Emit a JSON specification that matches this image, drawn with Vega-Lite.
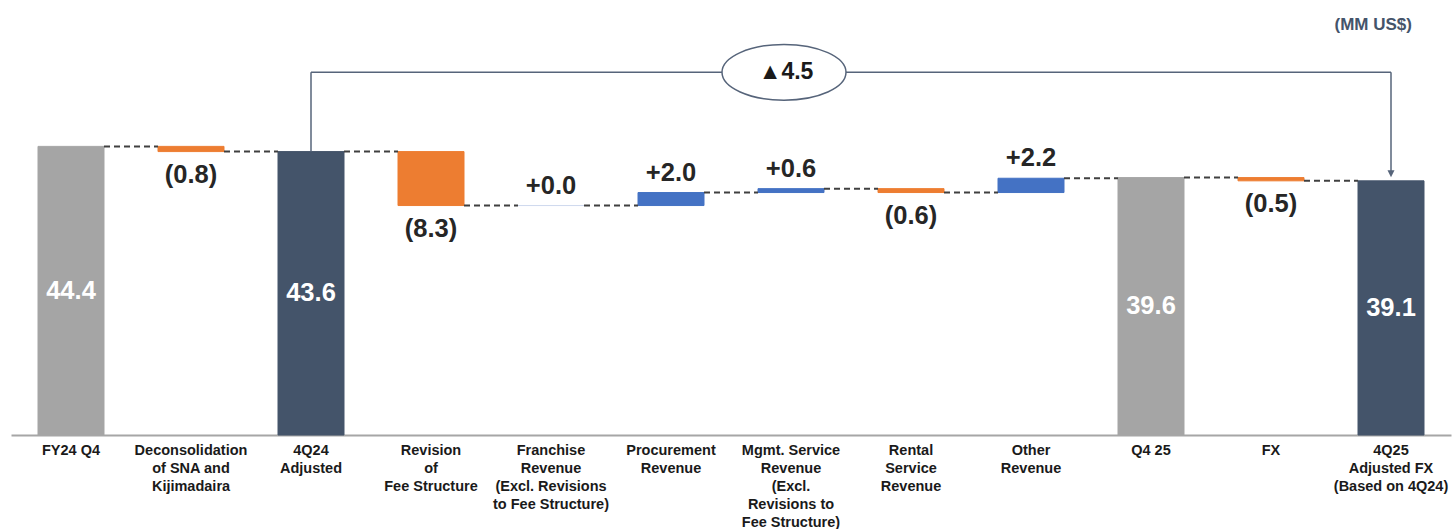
{
  "$schema": "https://vega.github.io/schema/vega-lite/v6.json",
  "width": 1440,
  "height": 435,
  "autosize": {"type": "none"},
  "padding": {"left": 11, "right": 2, "top": 0, "bottom": 94},
  "background": "#ffffff",
  "config": {
    "view": {"stroke": null},
    "font": "Liberation Sans",
    "text": {"font": "Liberation Sans", "fontWeight": "bold"}
  },
  "datasets": {
    "steps": [
      {"cat": "FY24 Q4", "kind": "total", "start": 0, "end": 44.4, "label": "44.4"},
      {"cat": "Deconsolidation|of SNA and|Kijimadaira", "kind": "decrease", "start": 44.4, "end": 43.6, "label": "(0.8)"},
      {"cat": "4Q24|Adjusted", "kind": "adjusted", "start": 0, "end": 43.6, "label": "43.6"},
      {"cat": "Revision|of|Fee Structure", "kind": "decrease", "start": 43.6, "end": 35.3, "label": "(8.3)"},
      {"cat": "Franchise|Revenue|(Excl. Revisions|to Fee Structure)", "kind": "flat", "start": 35.3, "end": 35.3, "label": "+0.0"},
      {"cat": "Procurement|Revenue", "kind": "increase", "start": 35.3, "end": 37.3, "label": "+2.0"},
      {"cat": "Mgmt. Service|Revenue|(Excl.|Revisions to|Fee Structure)", "kind": "increase", "start": 37.3, "end": 37.9, "label": "+0.6"},
      {"cat": "Rental|Service|Revenue", "kind": "decrease", "start": 37.9, "end": 37.3, "label": "(0.6)"},
      {"cat": "Other|Revenue", "kind": "increase", "start": 37.3, "end": 39.5, "label": "+2.2"},
      {"cat": "Q4 25", "kind": "total", "start": 0, "end": 39.6, "label": "39.6"},
      {"cat": "FX", "kind": "decrease", "start": 39.6, "end": 39.1, "label": "(0.5)"},
      {"cat": "4Q25|Adjusted FX|(Based on 4Q24)", "kind": "adjusted", "start": 0, "end": 39.1, "label": "39.1"}
    ],
    "links": [
      {"from": "FY24 Q4", "to": "Deconsolidation|of SNA and|Kijimadaira", "level": 44.4},
      {"from": "Deconsolidation|of SNA and|Kijimadaira", "to": "4Q24|Adjusted", "level": 43.6},
      {"from": "4Q24|Adjusted", "to": "Revision|of|Fee Structure", "level": 43.6},
      {"from": "Revision|of|Fee Structure", "to": "Franchise|Revenue|(Excl. Revisions|to Fee Structure)", "level": 35.3},
      {"from": "Franchise|Revenue|(Excl. Revisions|to Fee Structure)", "to": "Procurement|Revenue", "level": 35.3},
      {"from": "Procurement|Revenue", "to": "Mgmt. Service|Revenue|(Excl.|Revisions to|Fee Structure)", "level": 37.3},
      {"from": "Mgmt. Service|Revenue|(Excl.|Revisions to|Fee Structure)", "to": "Rental|Service|Revenue", "level": 37.9},
      {"from": "Rental|Service|Revenue", "to": "Other|Revenue", "level": 37.3},
      {"from": "Other|Revenue", "to": "Q4 25", "level": 39.5},
      {"from": "Q4 25", "to": "FX", "level": 39.6},
      {"from": "FX", "to": "4Q25|Adjusted FX|(Based on 4Q24)", "level": 39.1}
    ],
    "bracket": [
      {"from": "4Q24|Adjusted", "to": "4Q25|Adjusted FX|(Based on 4Q24)", "badgeAt": "Mgmt. Service|Revenue|(Excl.|Revisions to|Fee Structure)", "fromTop": 43.6, "toTop": 39.1, "level": 55.8, "label": "▲4.5"}
    ],
    "unit": [
      {"cat": "4Q25|Adjusted FX|(Based on 4Q24)", "level": 63.0, "label": "(MM US$)"}
    ]
  },
  "layer": [
    {
      "data": {"name": "steps"},
      "mark": {"type": "bar", "strokeWidth": 1},
      "encoding": {
        "x": {
          "field": "cat", "type": "nominal", "title": null,
          "scale": {
            "domain": ["FY24 Q4", "Deconsolidation|of SNA and|Kijimadaira", "4Q24|Adjusted", "Revision|of|Fee Structure", "Franchise|Revenue|(Excl. Revisions|to Fee Structure)", "Procurement|Revenue", "Mgmt. Service|Revenue|(Excl.|Revisions to|Fee Structure)", "Rental|Service|Revenue", "Other|Revenue", "Q4 25", "FX", "4Q25|Adjusted FX|(Based on 4Q24)"],
            "paddingInner": 0.45, "paddingOuter": 0.225
          },
          "axis": {
            "title": null,
            "labelExpr": "split(datum.value, '|')",
            "labelAngle": 0,
            "labelFont": "Liberation Sans",
            "labelFontWeight": "bold",
            "labelFontSize": 14.5,
            "labelLineHeight": 18,
            "labelColor": "#1a1a1a",
            "labelBaseline": "top",
            "labelPadding": 8,
            "labelLimit": 0,
            "labelOverlap": false,
            "ticks": false,
            "grid": false,
            "domainColor": "#a6a6a6",
            "domainWidth": 2
          }
        },
        "y": {"field": "start", "type": "quantitative", "scale": {"domain": [0, 66.92], "nice": false, "zero": true}, "axis": null},
        "y2": {"field": "end"},
        "fill": {
          "field": "kind", "type": "nominal", "legend": null,
          "scale": {"domain": ["total", "adjusted", "decrease", "increase", "flat"], "range": ["#a5a5a5", "#44546a", "#ed7d31", "#4472c4", "#d0daee"]}
        },
        "stroke": {
          "field": "kind", "type": "nominal", "legend": null,
          "scale": {"domain": ["total", "adjusted", "decrease", "increase", "flat"], "range": ["#a5a5a5", "#44546a", "#ed7d31", "#4472c4", "#d0daee"]}
        }
      }
    },
    {
      "data": {"name": "links"},
      "mark": {"type": "rule", "strokeDash": [6, 4], "strokeWidth": 2, "color": "#404040"},
      "encoding": {
        "x": {"field": "from", "type": "nominal", "bandPosition": 1, "title": null},
        "x2": {"field": "to", "bandPosition": 0},
        "y": {"field": "level", "type": "quantitative", "axis": null}
      }
    },
    {
      "data": {"name": "bracket"},
      "mark": {"type": "rule", "strokeWidth": 1.5, "color": "#56647a"},
      "encoding": {
        "x": {"field": "from", "type": "nominal", "title": null},
        "y": {"field": "fromTop", "type": "quantitative", "axis": null},
        "y2": {"field": "level"}
      }
    },
    {
      "data": {"name": "bracket"},
      "mark": {"type": "rule", "strokeWidth": 1.5, "color": "#56647a"},
      "encoding": {
        "x": {"field": "from", "type": "nominal", "title": null},
        "x2": {"field": "to"},
        "y": {"field": "level", "type": "quantitative", "axis": null}
      }
    },
    {
      "data": {"name": "bracket"},
      "mark": {"type": "rule", "strokeWidth": 1.5, "color": "#56647a", "y2Offset": -9},
      "encoding": {
        "x": {"field": "to", "type": "nominal", "title": null},
        "y": {"field": "level", "type": "quantitative", "axis": null},
        "y2": {"field": "toTop"}
      }
    },
    {
      "data": {"name": "bracket"},
      "mark": {"type": "point", "filled": true, "opacity": 1, "color": "#56647a", "shape": "M-0.5,-1 L0.5,-1 L0,0 Z", "size": 196, "yOffset": -3.5},
      "encoding": {
        "x": {"field": "to", "type": "nominal", "title": null},
        "y": {"field": "toTop", "type": "quantitative", "axis": null}
      }
    },
    {
      "data": {"name": "bracket"},
      "mark": {"type": "point", "filled": false, "opacity": 1, "fill": "#ffffff", "fillOpacity": 1, "stroke": "#56647a", "strokeWidth": 1.5, "shape": "M-1,0 C-1,-0.248 -0.552,-0.45 0,-0.45 C0.552,-0.45 1,-0.248 1,0 C1,0.248 0.552,0.45 0,0.45 C-0.552,0.45 -1,0.248 -1,0 Z", "size": 15376, "xOffset": -7},
      "encoding": {
        "x": {"field": "badgeAt", "type": "nominal", "title": null},
        "y": {"field": "level", "type": "quantitative", "axis": null}
      }
    },
    {
      "data": {"name": "bracket"},
      "mark": {"type": "text", "fontSize": 23, "fontWeight": "bold", "color": "#1a1a1a", "baseline": "middle", "align": "center", "dx": -5},
      "encoding": {
        "x": {"field": "badgeAt", "type": "nominal", "title": null},
        "y": {"field": "level", "type": "quantitative", "axis": null},
        "text": {"field": "label"}
      }
    },
    {
      "data": {"name": "steps"},
      "transform": [
        {"filter": "datum.kind === 'total' || datum.kind === 'adjusted'"},
        {"calculate": "datum.end / 2", "as": "mid"}
      ],
      "mark": {"type": "text", "fontSize": 25.5, "fontWeight": "bold", "color": "#ffffff", "baseline": "middle", "align": "center"},
      "encoding": {
        "x": {"field": "cat", "type": "nominal", "title": null},
        "y": {"field": "mid", "type": "quantitative", "axis": null},
        "text": {"field": "label"}
      }
    },
    {
      "data": {"name": "steps"},
      "transform": [{"filter": "datum.kind === 'increase' || datum.kind === 'flat'"}],
      "mark": {"type": "text", "fontSize": 25.5, "fontWeight": "bold", "color": "#262626", "baseline": "middle", "align": "center", "dy": -20},
      "encoding": {
        "x": {"field": "cat", "type": "nominal", "title": null},
        "y": {"field": "end", "type": "quantitative", "axis": null},
        "text": {"field": "label"}
      }
    },
    {
      "data": {"name": "steps"},
      "transform": [{"filter": "datum.kind === 'decrease'"}],
      "mark": {"type": "text", "fontSize": 25.5, "fontWeight": "bold", "color": "#262626", "baseline": "middle", "align": "center", "dy": 23},
      "encoding": {
        "x": {"field": "cat", "type": "nominal", "title": null},
        "y": {"field": "end", "type": "quantitative", "axis": null},
        "text": {"field": "label"}
      }
    },
    {
      "data": {"name": "unit"},
      "mark": {"type": "text", "fontSize": 17, "fontWeight": "bold", "color": "#44546a", "baseline": "middle", "align": "right", "dx": 21},
      "encoding": {
        "x": {"field": "cat", "type": "nominal", "title": null},
        "y": {"field": "level", "type": "quantitative", "axis": null},
        "text": {"field": "label"}
      }
    }
  ]
}
